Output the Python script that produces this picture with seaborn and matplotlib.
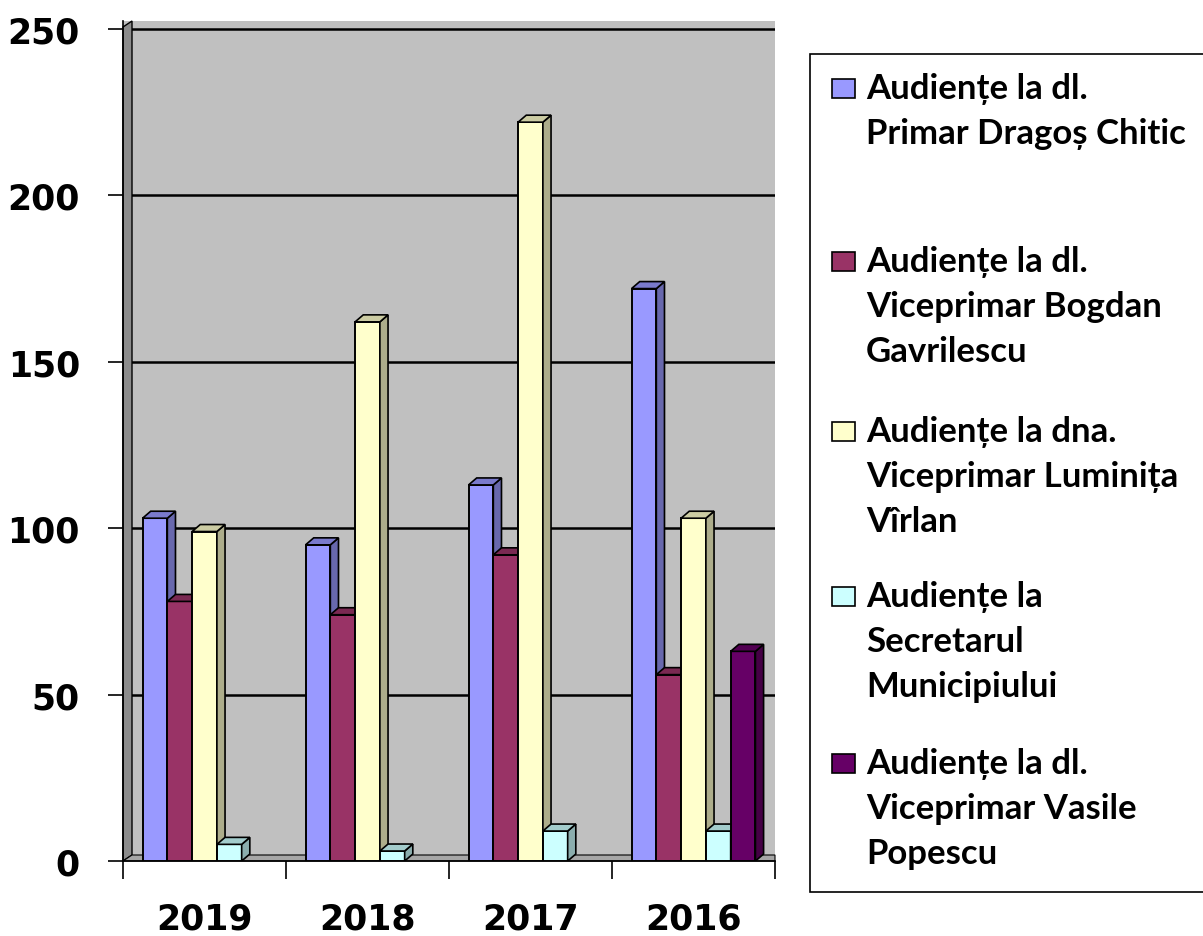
import numpy as np
import pandas as pd
import matplotlib
matplotlib.use("Agg")
import matplotlib.pyplot as plt
from matplotlib.patches import Polygon, Rectangle
from matplotlib.colors import to_rgb
import seaborn as sns

years = ["2019", "2018", "2017", "2016"]
series = [
    "Audiențe la dl.\nPrimar Dragoș Chitic",
    "Audiențe la dl.\nViceprimar Bogdan\nGavrilescu",
    "Audiențe la dna.\nViceprimar Luminița\nVîrlan",
    "Audiențe la\nSecretarul\nMunicipiului",
    "Audiențe la dl.\nViceprimar Vasile\nPopescu",
]
primar = [103, 95, 113, 172]
bogdan = [78, 74, 92, 56]
luminita = [99, 162, 222, 103]
secretar = [5, 3, 9, 9]
vasile = [np.nan, np.nan, np.nan, 63]
colors = ["#9999FF", "#993366", "#FFFFCC", "#CCFFFF", "#660066"]

rows = []
for name, vals in zip(series, [primar, bogdan, luminita, secretar, vasile]):
    for y, v in zip(years, vals):
        rows.append({"year": y, "series": name, "value": v})
df = pd.DataFrame(rows).dropna()

sns.set_theme(style="white")
plt.rcParams['font.family'] = ['DejaVu Sans']

W, H = 1203, 937
fig = plt.figure(figsize=(W / 100, H / 100), dpi=100)
ax = fig.add_axes([123 / W, 75 / H, (775 - 123) / W, (862 - 22) / H])
ax.set_facecolor("#C0C0C0")

sns.barplot(data=df, x="year", y="value", hue="series", order=years,
            hue_order=series, palette=colors, width=0.76, saturation=1,
            edgecolor="black", linewidth=1.4, legend=False, ax=ax, zorder=3)

ax.set_xlim(-0.5, 3.5)
ax.set_ylim(0, 252.4)

# fake 3D depth for the bars
dx, dy = 0.05, 2.1
bars = [p for p in ax.patches if np.isfinite(p.get_height()) and p.get_height() > 0]
bars.sort(key=lambda p: p.get_x())
for rank, p in enumerate(bars):
    x0, w, h = p.get_x(), p.get_width(), p.get_height()
    c = np.array(to_rgb(p.get_facecolor()))
    z = 3 + rank * 0.1
    p.set_zorder(z)
    side = Polygon([(x0 + w, 0), (x0 + w + dx, dy), (x0 + w + dx, h + dy), (x0 + w, h)],
                   closed=True, facecolor=c * 0.68, edgecolor="black", lw=1.2, zorder=z + 0.05)
    top = Polygon([(x0, h), (x0 + dx, h + dy), (x0 + w + dx, h + dy), (x0 + w, h)],
                  closed=True, facecolor=c * 0.8, edgecolor="black", lw=1.2, zorder=z + 0.05)
    ax.add_patch(side)
    ax.add_patch(top)

# walls
ax.yaxis.grid(True, color="black", lw=1.8, zorder=1)
ax.set_axisbelow(True)
wx, wy = 9 / 652, 6 / 840
ax.add_patch(Polygon([(0, 0), (wx, wy), (wx, 1), (0, 1 - wy)], closed=True,
                     transform=ax.transAxes, facecolor="#8C8C8C", edgecolor="black",
                     lw=1, zorder=2, clip_on=False))
ax.add_patch(Polygon([(0, 0), (wx, wy), (1, wy), (1, 0)], closed=True,
                     transform=ax.transAxes, facecolor="#A6A6A6", edgecolor="black",
                     lw=0.8, zorder=2, clip_on=False))

for s in ["top", "right"]:
    ax.spines[s].set_visible(False)
for s in ["left", "bottom"]:
    ax.spines[s].set_color("black")
    ax.spines[s].set_linewidth(1.2)

ax.set_yticks([0, 50, 100, 150, 200, 250])
ax.tick_params(axis="y", which="major", direction="out", length=11, width=1.2,
               color="black", pad=20, labelsize=25, left=True)
ax.set_xticks(range(len(years)))
ax.set_xticklabels(years)
ax.set_xticks([-0.5, 0.5, 1.5, 2.5, 3.5], minor=True)
ax.tick_params(axis="x", which="major", length=0, pad=29, labelsize=25)
ax.tick_params(axis="x", which="minor", direction="out", length=13, width=1.2,
               color="black", bottom=True)
for lab in ax.get_xticklabels() + ax.get_yticklabels():
    lab.set_fontweight("bold")
    lab.set_color("black")
ax.set_xlabel("")
ax.set_ylabel("")

# legend box drawn by hand so the swatch sits beside the first line
fig.patches.append(Rectangle((810 / W, 44 / H), 1.0, (893 - 55) / H,
                             transform=fig.transFigure, facecolor="white",
                             edgecolor="black", lw=1.2, zorder=0))
baselines = [101, 274, 444, 609, 776]
for name, col, b in zip(series, colors, baselines):
    fig.patches.append(Rectangle((832 / W, 1 - (b - 2) / H), 23 / W, 19 / H,
                                 transform=fig.transFigure, facecolor=col,
                                 edgecolor="black", lw=1.2, zorder=2))
    fig.text(866 / W, 1 - (b - 28) / H, name, ha="left", va="top",
             fontsize=25, fontweight="bold", family=["Lato", "DejaVu Sans"],
             linespacing=1.5, color="black")

fig.savefig("out.png", dpi=100)
